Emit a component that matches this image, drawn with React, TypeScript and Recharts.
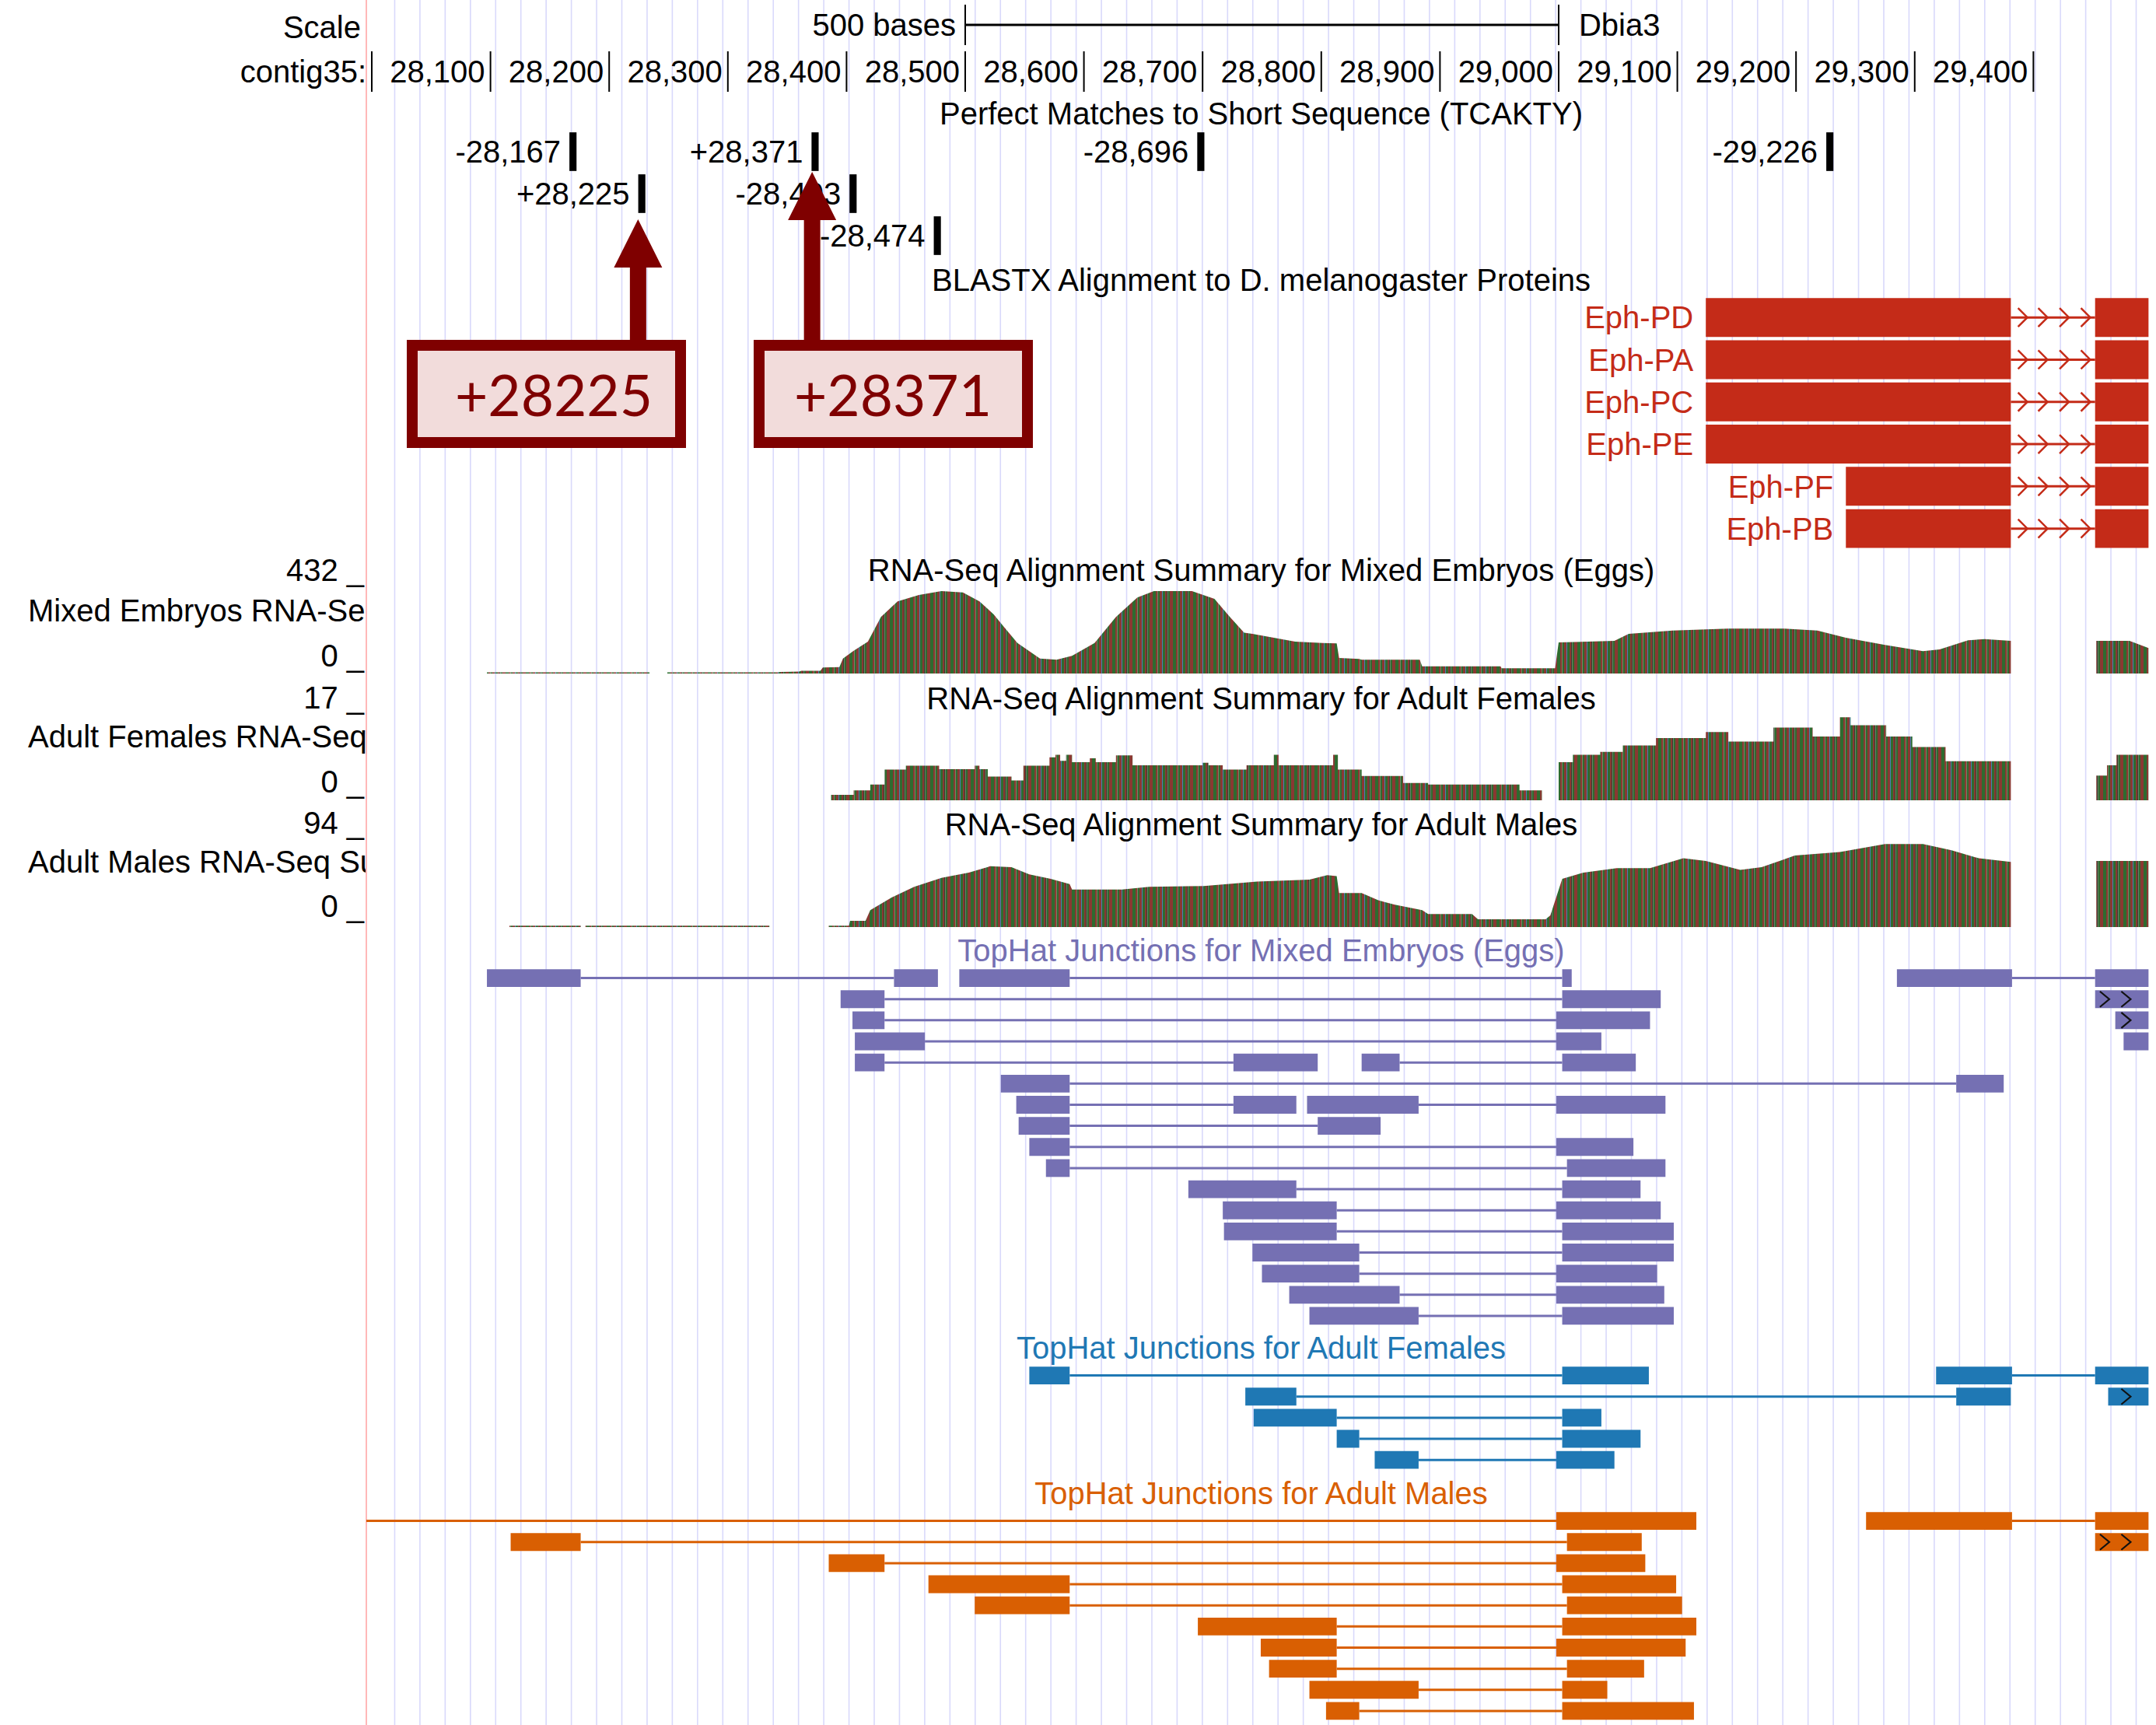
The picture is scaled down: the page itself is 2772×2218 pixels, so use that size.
import React from 'react';
import {
  ComposedChart,
  AreaChart,
  Area,
  XAxis,
  YAxis,
  ReferenceLine,
  ReferenceArea,
  ReferenceDot,
} from 'recharts';

const PAGE_W = 2772;
const PAGE_H = 2218;
const LEFT = 471;
const VIEW_START = 27995.4;
const VIEW_END = 29503.3;
const FONT = "'Liberation Sans', Arial, sans-serif";
const FS = 40;

const PURPLE = '#7570b3';
const BLUE = '#1f78b4';
const ORANGE = '#d95f02';
const BLAST_RED = '#c42b18';
const CALLOUT = '#7f0000';

// ruler
const rulerTicks = [28000, 28100, 28200, 28300, 28400, 28500, 28600, 28700, 28800, 28900, 29000, 29100, 29200, 29300, 29400];
const rulerLabels = ['contig35:', '28,100', '28,200', '28,300', '28,400', '28,500', '28,600', '28,700', '28,800', '28,900', '29,000', '29,100', '29,200', '29,300', '29,400'];
const scaleBar = [28500, 29000];

// perfect matches to TCAKTY
const matchRows = [0, 1, 0, 1, 2, 0, 0];
const matchPositions = [28167, 28225, 28371, 28403, 28474, 28696, 29226];
const matchLabels = ['-28,167', '+28,225', '+28,371', '-28,403', '-28,474', '-28,696', '-29,226'];

// BLASTX hits
const blastNames = ['Eph-PD', 'Eph-PA', 'Eph-PC', 'Eph-PE', 'Eph-PF', 'Eph-PB'];
const blastStarts = [29124, 29124, 29124, 29124, 29242, 29242];
const blastFirstEnd = 29381;
const blastSecondExon = [29452, 29497];
const blastArrows = [29391, 29408, 29426, 29444];

// RNA-Seq coverage, [position, depth]; null = no coverage
const embryoMax = 432;
const embryoCoverage: [number, number | null][] = [
  [28097, 6], [28234, 6], [28236, null], [28249, 6], [28342, 6], [28344, 8], [28360, 10], [28362, 14],
  [28378, 14], [28380, 31], [28394, 33], [28397, 77], [28406, 117], [28418, 164], [28429, 291],
  [28443, 371], [28461, 404], [28480, 424], [28498, 417], [28512, 371], [28524, 304], [28533, 237],
  [28544, 157], [28563, 77], [28577, 71], [28590, 91], [28609, 157], [28627, 291], [28645, 391],
  [28659, 424], [28691, 424], [28710, 384], [28723, 291], [28735, 210], [28742, 204], [28760, 184],
  [28778, 164], [28801, 157], [28813, 155], [28815, 80], [28832, 75], [28834, 71], [28883, 71],
  [28885, 37], [28951, 37], [28952, 27], [28997, 27], [29000, 160], [29047, 168], [29059, 204],
  [29096, 221], [29143, 231], [29190, 231], [29218, 221], [29242, 184], [29275, 147], [29307, 115],
  [29321, 124], [29345, 171], [29359, 177], [29381, 168], [29383, null], [29453, 168], [29481, 168],
  [29497, 131],
];

const femaleMax = 17;
const femaleCoverage: [number, number | null][] = [
  [28387, 1.1], [28406, 2.0], [28420, 3.2], [28432, 6.2], [28450, 7.0], [28478, 6.3], [28508, 7.0],
  [28512, 6.3], [28519, 4.8], [28539, 4.0], [28549, 7.0], [28571, 8.7], [28576, 9.2], [28580, 8.0],
  [28585, 9.2], [28590, 7.7], [28605, 8.5], [28610, 7.7], [28627, 9.1], [28641, 7.1], [28700, 7.6],
  [28705, 7.1], [28717, 6.2], [28737, 7.1], [28760, 9.2], [28764, 7.1], [28810, 9.2], [28814, 6.2],
  [28834, 4.9], [28869, 3.5], [28890, 3.2], [28967, 2.0], [28986, 2.0], [28987, null], [29000, 7.7],
  [29012, 9.2], [29035, 9.8], [29054, 11.1], [29082, 12.6], [29124, 13.8], [29143, 11.9],
  [29181, 14.7], [29214, 12.9], [29237, 16.8], [29246, 15.2], [29276, 12.9], [29298, 10.8],
  [29326, 7.9], [29381, 7.9], [29382, null], [29453, 5.0], [29462, 7.1], [29470, 9.2], [29497, 9.2],
];

const maleMax = 94;
const maleCoverage: [number, number | null][] = [
  [28116, 1.5], [28176, 1.5], [28177, null], [28180, 1.5], [28335, 1.5], [28336, null], [28385, 1.5],
  [28402, 1.5], [28403, 7], [28416, 7], [28420, 19], [28438, 33], [28457, 45], [28480, 55],
  [28503, 61], [28521, 68], [28539, 67], [28554, 59], [28572, 54], [28588, 48], [28590, 42],
  [28632, 42], [28655, 45], [28701, 46], [28746, 51], [28790, 53], [28805, 58], [28813, 57],
  [28815, 38], [28834, 38], [28848, 30], [28862, 25], [28885, 19], [28890, 14.5], [28927, 14.5],
  [28932, 8.7], [28989, 8.7], [28993, 13], [29003, 54], [29021, 61], [29049, 66], [29077, 66],
  [29105, 77], [29124, 74], [29153, 64], [29171, 67], [29199, 80], [29237, 84], [29275, 93],
  [29307, 93], [29331, 86], [29354, 77], [29381, 73], [29383, null], [29453, 74], [29497, 74],
];

// TopHat junctions: [row, start1, end1, start2, end2] (single exon when only 3 values)
const embryoJunctions: number[][] = [
  [0, 28097, 28176, 28440, 28477], [0, 28495, 28588, 29003, 29011], [0, 29285, 29382, 29452, 29497],
  [1, 28395, 28432, 29003, 29086], [1, 29452, 29497],
  [2, 28405, 28432, 28998, 29077], [2, 29469, 29497],
  [3, 28407, 28466, 28998, 29036], [3, 29476, 29497],
  [4, 28407, 28432, 28726, 28797], [4, 28834, 28866, 29003, 29065],
  [5, 28530, 28588, 29335, 29375],
  [6, 28543, 28588, 28726, 28779], [6, 28788, 28882, 28998, 29090],
  [7, 28545, 28588, 28797, 28850],
  [8, 28554, 28588, 28998, 29063],
  [9, 28568, 28588, 29007, 29090],
  [10, 28688, 28779, 29003, 29069],
  [11, 28717, 28813, 28998, 29086],
  [12, 28718, 28813, 29003, 29097],
  [13, 28742, 28832, 29003, 29097],
  [14, 28750, 28832, 28998, 29083],
  [15, 28773, 28866, 28998, 29089],
  [16, 28790, 28882, 29003, 29097],
];
const embryoChevrons = [[1, 29460], [1, 29478], [2, 29478]];

const femaleJunctions: number[][] = [
  [0, 28554, 28588, 29003, 29076], [0, 29318, 29382, 29452, 29497],
  [1, 28736, 28779, 29335, 29381], [1, 29463, 29497],
  [2, 28743, 28813, 29003, 29036],
  [3, 28813, 28832, 29003, 29069],
  [4, 28845, 28882, 28998, 29047],
];
const femaleChevrons = [[1, 29478]];

const maleJunctions: number[][] = [
  [0, 27900, 27950, 28998, 29116], [0, 29259, 29382, 29452, 29497],
  [1, 28117, 28176, 29007, 29070], [1, 29452, 29497],
  [2, 28385, 28432, 28998, 29073],
  [3, 28469, 28588, 29003, 29099],
  [4, 28508, 28588, 29007, 29104],
  [5, 28696, 28813, 29003, 29116],
  [6, 28749, 28813, 28998, 29107],
  [7, 28756, 28813, 29007, 29072],
  [8, 28790, 28882, 29003, 29041],
  [9, 28804, 28832, 29003, 29114],
];
const maleChevrons = [[1, 29460], [1, 29478]];

// callouts
const calloutPositions = [28225, 28371];
const calloutLabels = ['+28225', '+28371'];

// browser guide lines every ~21 bases
const guides = Array.from({ length: 70 }, (_, i) => 28019.3 + i * 21.265);

const frame = [{ x: VIEW_START }, { x: VIEW_END }];
const xPx = (g: number) => LEFT + ((g - VIEW_START) / (VIEW_END - VIEW_START)) * (PAGE_W - LEFT);

const STRIPES: [number, number, string][] = [
  [0, 4, '#2e6b2f'], [4, 2.5, '#8a3832'], [6.5, 2.5, '#2e6b2f'], [9, 3, '#8a3832'], [12, 1, '#4b80b4'],
  [13, 3, '#2e6b2f'], [16, 2, '#8a3832'], [18, 1.5, '#3d3a30'], [19.5, 2.5, '#2e6b2f'], [22, 4, '#8a3832'],
];

const Layer = ({ top, height, children }: any) => (
  <div style={{ position: 'absolute', left: 0, top, width: PAGE_W, height }}>{children}</div>
);

const chevron = (color: string, w: number, h: number, sw: number) => (props: any) => (
  <path
    d={`M${props.cx - w / 2},${props.cy - h / 2} L${props.cx + w / 2},${props.cy} L${props.cx - w / 2},${props.cy + h / 2}`}
    fill="none"
    stroke={color}
    strokeWidth={sw}
  />
);

const RowChart = ({ top, rows, rowH, children }: any) => {
  const h = rows * rowH;
  return (
    <Layer top={top} height={h}>
      <ComposedChart width={PAGE_W} height={h} data={frame} margin={{ top: 0, right: 0, bottom: 0, left: LEFT }}>
        <XAxis dataKey="x" type="number" domain={[VIEW_START, VIEW_END]} allowDataOverflow hide />
        <YAxis type="number" domain={[0, rows]} reversed allowDataOverflow hide />
        {children}
      </ComposedChart>
    </Layer>
  );
};

const CoverageTrack = ({ top, max, points, step }: any) => {
  const data = points.map(([pos, v]: [number, number | null]) => ({ pos, v }));
  return (
    <Layer top={top} height={108}>
      <AreaChart width={PAGE_W} height={108} data={data} margin={{ top: 0, right: 0, bottom: 0, left: LEFT }}>
        <XAxis dataKey="pos" type="number" domain={[VIEW_START, VIEW_END]} allowDataOverflow hide />
        <YAxis type="number" domain={[0, max]} allowDataOverflow hide />
        <Area
          dataKey="v"
          type={step ? 'stepAfter' : 'linear'}
          fill="url(#covStripes)"
          fillOpacity={1}
          stroke="none"
          dot={false}
          activeDot={false}
          connectNulls={false}
          isAnimationActive={false}
        />
      </AreaChart>
    </Layer>
  );
};

const JunctionTrack = ({ top, rows, features, chevrons, color }: any) => (
  <RowChart top={top} rows={rows} rowH={27.15}>
    {features
      .filter((f: number[]) => f.length === 5)
      .map((f: number[], i: number) => (
        <ReferenceLine
          key={`i${i}`}
          segment={[{ x: f[2], y: f[0] + 0.5 }, { x: f[3], y: f[0] + 0.5 }]}
          stroke={color}
          strokeWidth={3}
          ifOverflow="hidden"
        />
      ))}
    {features.flatMap((f: number[], i: number) => {
      const blocks = f.length === 5 ? [[f[1], f[2]], [f[3], f[4]]] : [[f[1], f[2]]];
      return blocks.map(([s, e], j) => (
        <ReferenceArea
          key={`b${i}-${j}`}
          x1={s}
          x2={e}
          y1={f[0] + 0.08}
          y2={f[0] + 0.92}
          fill={color}
          fillOpacity={1}
          stroke="none"
          ifOverflow="hidden"
        />
      ));
    })}
    {chevrons.map(([r, x]: number[], i: number) => (
      <ReferenceDot key={`c${i}`} x={x} y={r + 0.5} shape={chevron('#111', 12, 20, 2.2)} />
    ))}
  </RowChart>
);

const titles: [string, number, string][] = [
  ['Perfect Matches to Short Sequence (TCAKTY)', 146, '#000'],
  ['BLASTX Alignment to D. melanogaster Proteins', 360, '#000'],
  ['RNA-Seq Alignment Summary for Mixed Embryos (Eggs)', 733, '#000'],
  ['RNA-Seq Alignment Summary for Adult Females', 898, '#000'],
  ['RNA-Seq Alignment Summary for Adult Males', 1060, '#000'],
  ['TopHat Junctions for Mixed Embryos (Eggs)', 1222, PURPLE],
  ['TopHat Junctions for Adult Females', 1733, BLUE],
  ['TopHat Junctions for Adult Males', 1920, ORANGE],
];
const axisLabels: [string, number][] = [
  ['432 _', 733], ['0 _', 843], ['17 _', 897], ['0 _', 1005], ['94 _', 1058], ['0 _', 1165],
];
const trackNames: [string, number][] = [
  ['Mixed Embryos RNA-Se', 785], ['Adult Females RNA-Seq', 947], ['Adult Males RNA-Seq Su', 1108],
];

export default function App() {
  return (
    <div style={{ position: 'absolute', left: 0, top: 0, width: PAGE_W, height: PAGE_H, background: '#fff', overflow: 'hidden', fontFamily: FONT }}>
      <svg width={0} height={0} style={{ position: 'absolute' }}>
        <defs>
          <pattern id="covStripes" patternUnits="userSpaceOnUse" width={26} height={8}>
            {STRIPES.map(([x, w, c], i) => (
              <rect key={i} x={x} y={0} width={w} height={8} fill={c} />
            ))}
          </pattern>
        </defs>
      </svg>

      {/* guide lines */}
      <RowChart top={0} rows={1} rowH={PAGE_H}>
        {guides.map((g) => (
          <ReferenceLine key={g} x={g} stroke="#d9d9fb" strokeWidth={1.6} />
        ))}
        <ReferenceLine x={VIEW_START} stroke="#ffb8b8" strokeWidth={2} ifOverflow="visible" />
      </RowChart>

      {/* scale bar */}
      <RowChart top={6} rows={1} rowH={52}>
        <ReferenceLine x={scaleBar[0]} stroke="#000" strokeWidth={2} label={{ value: '500 bases', position: 'left', offset: 12, fill: '#000', fontSize: FS, fontFamily: FONT }} />
        <ReferenceLine x={scaleBar[1]} stroke="#000" strokeWidth={2} label={{ value: 'Dbia3', position: 'right', offset: 26, fill: '#000', fontSize: FS, fontFamily: FONT }} />
        <ReferenceLine segment={[{ x: scaleBar[0], y: 0.5 }, { x: scaleBar[1], y: 0.5 }]} stroke="#000" strokeWidth={3} />
      </RowChart>

      {/* base position ruler */}
      <RowChart top={66} rows={1} rowH={52}>
        {rulerTicks.map((t, i) => (
          <ReferenceLine
            key={t}
            x={t}
            stroke="#000"
            strokeWidth={2}
            label={{ value: rulerLabels[i], position: 'left', offset: 7, fill: '#000', fontSize: FS, fontFamily: FONT }}
          />
        ))}
      </RowChart>

      {/* perfect matches */}
      <RowChart top={168} rows={3} rowH={54}>
        {matchPositions.map((p, i) => (
          <ReferenceArea
            key={p}
            x1={p - 0.5}
            x2={p + 5.5}
            y1={matchRows[i] + 0.04}
            y2={matchRows[i] + 0.96}
            fill="#000"
            fillOpacity={1}
            stroke="none"
            label={{ value: matchLabels[i], position: 'left', offset: 11, fill: '#000', fontSize: FS, fontFamily: FONT }}
          />
        ))}
      </RowChart>

      {/* BLASTX */}
      <RowChart top={381} rows={6} rowH={54.3}>
        {blastNames.map((n, r) => (
          <ReferenceLine
            key={`l${n}`}
            segment={[{ x: blastFirstEnd, y: r + 0.5 }, { x: blastSecondExon[0], y: r + 0.5 }]}
            stroke={BLAST_RED}
            strokeWidth={3}
          />
        ))}
        {blastNames.map((n, r) => (
          <ReferenceArea
            key={`a${n}`}
            x1={blastStarts[r]}
            x2={blastFirstEnd}
            y1={r + 0.04}
            y2={r + 0.96}
            fill={BLAST_RED}
            fillOpacity={1}
            stroke="none"
            label={{ value: n, position: 'left', offset: 16, fill: BLAST_RED, fontSize: FS, fontFamily: FONT }}
          />
        ))}
        {blastNames.map((n, r) => (
          <ReferenceArea
            key={`b${n}`}
            x1={blastSecondExon[0]}
            x2={blastSecondExon[1]}
            y1={r + 0.04}
            y2={r + 0.96}
            fill={BLAST_RED}
            fillOpacity={1}
            stroke="none"
          />
        ))}
        {blastNames.flatMap((n, r) =>
          blastArrows.map((x) => (
            <ReferenceDot key={`${n}${x}`} x={x} y={r + 0.5} shape={chevron(BLAST_RED, 12, 24, 2.5)} />
          ))
        )}
      </RowChart>

      <CoverageTrack top={758} max={embryoMax} points={embryoCoverage} />
      <CoverageTrack top={921} max={femaleMax} points={femaleCoverage} step />
      <CoverageTrack top={1084} max={maleMax} points={maleCoverage} />

      <JunctionTrack top={1244} rows={17} features={embryoJunctions} chevrons={embryoChevrons} color={PURPLE} />
      <JunctionTrack top={1755} rows={5} features={femaleJunctions} chevrons={femaleChevrons} color={BLUE} />
      <JunctionTrack top={1941.5} rows={10} features={maleJunctions} chevrons={maleChevrons} color={ORANGE} />

      {/* track titles and side labels */}
      <svg width={PAGE_W} height={PAGE_H} style={{ position: 'absolute', left: 0, top: 0, pointerEvents: 'none' }}>
        <defs>
          <clipPath id="sideClip">
            <rect x={0} y={0} width={LEFT - 1} height={PAGE_H} />
          </clipPath>
        </defs>
        <text x={464} y={35} textAnchor="end" dominantBaseline="central" fontSize={FS} fontFamily={FONT} fill="#000">
          Scale
        </text>
        {titles.map(([t, y, c]) => (
          <text key={t} x={(LEFT + PAGE_W) / 2} y={y} textAnchor="middle" dominantBaseline="central" fontSize={FS} fontFamily={FONT} fill={c}>
            {t}
          </text>
        ))}
        {axisLabels.map(([t, y]) => (
          <text key={`${t}${y}`} x={468} y={y} textAnchor="end" dominantBaseline="central" fontSize={FS} fontFamily={FONT} fill="#000">
            {t}
          </text>
        ))}
        <g clipPath="url(#sideClip)">
          {trackNames.map(([t, y]) => (
            <text key={t} x={36} y={y} dominantBaseline="central" fontSize={FS} fontFamily={FONT} fill="#000">
              {t}
            </text>
          ))}
        </g>
      </svg>

      {/* callouts */}
      <svg width={PAGE_W} height={PAGE_H} style={{ position: 'absolute', left: 0, top: 0, pointerEvents: 'none' }}>
        {calloutPositions.map((p, i) => {
          const cx = xPx(p) - (i === 0 ? 1 : 0);
          const tip = i === 0 ? 282 : 221;
          const base = tip + 62;
          return (
            <path
              key={p}
              d={`M${cx},${tip} L${cx + 31},${base} L${cx + 10.5},${base} L${cx + 10.5},440 L${cx - 10.5},440 L${cx - 10.5},${base} L${cx - 31},${base} Z`}
              fill={CALLOUT}
            />
          );
        })}
        {calloutLabels.map((t, i) => {
          const x0 = i === 0 ? 523 : 969;
          return (
            <g key={t}>
              <rect x={x0 + 7} y={444} width={345} height={125} fill="#f2dcdb" stroke={CALLOUT} strokeWidth={14} />
              <text
                x={x0 + 7 + 172 + (i === 0 ? 10 : 0)}
                y={507}
                textAnchor="middle"
                dominantBaseline="central"
                fontSize={73}
                fontFamily="Lato, 'Open Sans', sans-serif"
                fill={CALLOUT}
              >
                {t}
              </text>
            </g>
          );
        })}
      </svg>
    </div>
  );
}
